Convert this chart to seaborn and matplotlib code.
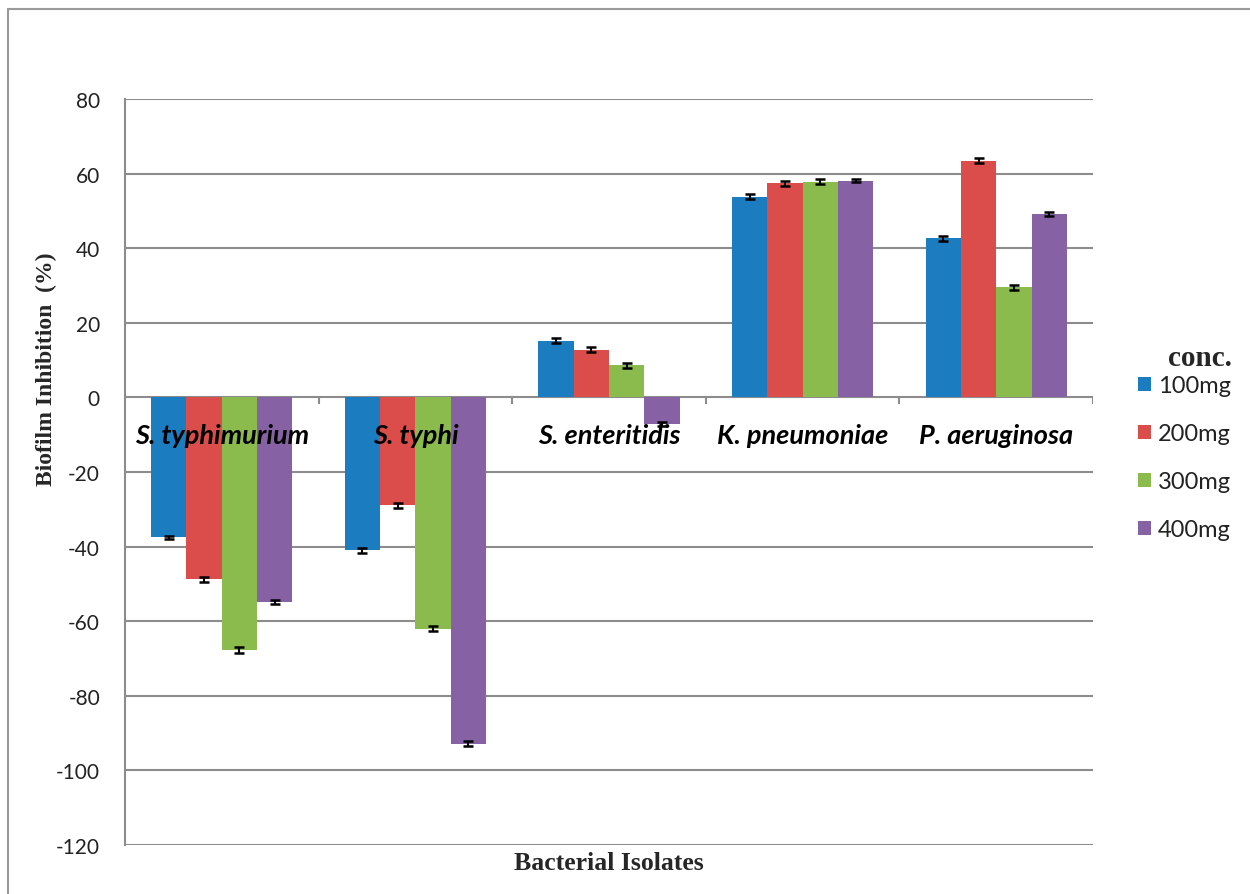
import numpy as np
import pandas as pd
import seaborn as sns
import matplotlib.pyplot as plt
from matplotlib.lines import Line2D

# data
isolates = ['S. typhimurium', 'S. typhi', 'S. enteritidis', 'K. pneumoniae', 'P. aeruginosa']
conc = ['100mg', '200mg', '300mg', '400mg']
inh_100 = [-37.5, -41.0, 15.2, 53.8, 42.6]
inh_200 = [-48.8, -28.9, 12.8, 57.4, 63.5]
inh_300 = [-67.7, -62.0, 8.6, 57.8, 29.5]
inh_400 = [-54.8, -92.8, -7.2, 58.1, 49.2]
err_100 = [0.4, 0.6, 0.6, 0.6, 0.6]
err_200 = [0.7, 0.7, 0.7, 0.7, 0.6]
err_300 = [0.7, 0.6, 0.6, 0.7, 0.6]
err_400 = [0.6, 0.6, 0.6, 0.4, 0.6]
colors = ['#1C7CC0', '#DA4D4A', '#8BBB4C', '#8662A5']

values = [inh_100, inh_200, inh_300, inh_400]
errors = [err_100, err_200, err_300, err_400]
rows = []
for c, vals in zip(conc, values):
    for iso, v in zip(isolates, vals):
        rows.append({'isolate': iso, 'conc': c, 'inhibition': v})
data = pd.DataFrame(rows)

sns.set_style('white')
plt.rcParams['font.family'] = ['Lato', 'DejaVu Sans']
plt.rcParams['axes.unicode_minus'] = False

fig = plt.figure(figsize=(12.5, 8.95), dpi=100)
ax = fig.add_axes([0.1, 0.0547, 0.7744, 0.8336])

sns.barplot(data=data, x='isolate', y='inhibition', hue='conc',
            palette=colors, errorbar=None, width=0.73, saturation=1,
            edgecolor='none', ax=ax)

# error bars on top of each bar
for cont, errs in zip(ax.containers, errors):
    xs = [b.get_x() + b.get_width() / 2 for b in cont]
    ys = [b.get_height() for b in cont]
    ax.errorbar(xs, ys, yerr=errs, fmt='none', ecolor='black',
                elinewidth=1.5, capsize=3.6, capthick=1.8, zorder=4)

ax.set_ylim(-120, 80)
ax.set_yticks(np.arange(-120, 81, 20))
ax.set_xlim(-0.5, len(isolates) - 0.5)
ax.grid(True, axis='y', color='#8c8c8c', linewidth=1.5)
ax.set_axisbelow(True)
for s in ['top', 'right', 'bottom']:
    ax.spines[s].set_visible(False)
ax.spines['left'].set_color('#8c8c8c')
ax.spines['left'].set_linewidth(1.5)
ax.tick_params(axis='y', direction='out', length=5, width=1.5,
               color='#8c8c8c', pad=13, labelsize=15, labelcolor='#222222')
ax.set_xticks([])

# category axis at zero with ticks between groups
bounds = np.arange(len(isolates)) + 0.5
ax.vlines(bounds, -1.9, 0, color='#8c8c8c', linewidth=1.5, zorder=1)

# category names inside the plot
for i, iso in enumerate(isolates):
    ax.text(i, -10.2, iso, ha='center', va='center', fontsize=19.5,
            fontweight='bold', fontstyle='italic', color='black', zorder=5)

ax.set_ylabel('Biofilm Inhibition  (%)', family='Liberation Serif',
              fontweight='bold', fontsize=17)
ax.yaxis.set_label_coords(-0.07, 0.639)
ax.set_xlabel('Bacterial Isolates', family='Liberation Serif',
              fontweight='bold', fontsize=18.5, labelpad=4)

leg = ax.legend(loc='center left', bbox_to_anchor=(1.046, 0.519),
                frameon=False, fontsize=17, labelspacing=1.14,
                handlelength=0.55, handleheight=0.55, handletextpad=0.3,
                borderpad=0, borderaxespad=0)
for t in leg.get_texts():
    t.set_color('#222222')
fig.text(1232 / 1250, 1 - 358 / 895, 'conc.', ha='right', va='center',
         family='Liberation Serif', fontweight='bold', fontsize=21)

# outer chart border (left and top visible)
fig.add_artist(Line2D([8 / 1250, 8 / 1250], [0, 1 - 10 / 895],
                      transform=fig.transFigure, color='#999999', linewidth=1.5))
fig.add_artist(Line2D([8 / 1250, 1], [1 - 10 / 895, 1 - 10 / 895],
                      transform=fig.transFigure, color='#999999', linewidth=1.5))

fig.savefig('out.png', dpi=100)
